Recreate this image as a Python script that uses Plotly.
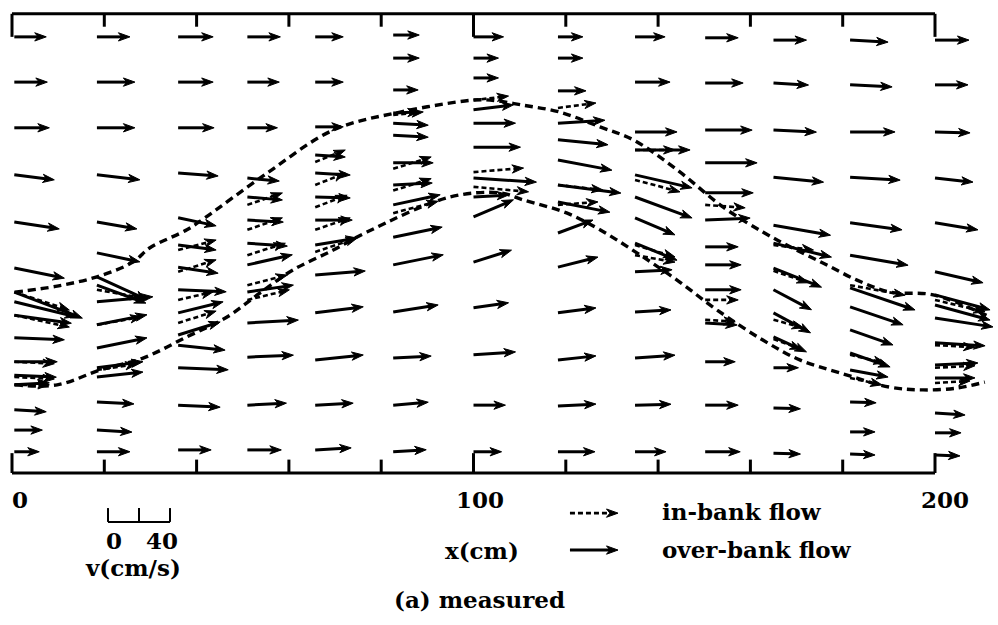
import math
import plotly.graph_objects as go

# ---------------- data ----------------
# streamwise positions of the measuring sections (cm)
col_x = [0.5, 18.4, 36.0, 51.0, 65.7, 82.6, 100.0, 118.3, 135.0, 150.2, 165.0, 181.6, 200.0]

# over-bank flow vectors: lateral position y (cm), velocity u, v (cm/s), per section
over_y = [
    [94.5, 84.7, 74.8, 64.6, 54.4, 44.4, 39.2, 37.1, 34.2, 29.3, 24.1, 21.2, 19.1, 13.7, 9.3, 4.6],
    [94.5, 84.7, 74.8, 64.6, 54.4, 47.7, 42.5, 40.7, 37.1, 32.1, 27.1, 22.8, 20.8, 15.4, 9.3, 4.6],
    [94.5, 84.7, 74.8, 65.0, 55.3, 49.4, 44.6, 39.7, 34.7, 29.9, 27.7, 22.8, 14.7, 5.0],
    [94.5, 84.7, 74.8, 63.9, 59.8, 54.8, 49.8, 45.1, 39.2, 32.5, 25.1, 14.7, 5.0],
    [94.5, 84.7, 75.0, 68.9, 65.0, 59.8, 54.8, 49.4, 42.9, 34.7, 24.5, 14.7, 5.0],
    [94.9, 89.9, 83.0, 78.0, 75.8, 73.2, 67.2, 62.4, 58.1, 51.1, 45.1, 34.9, 24.9, 14.7, 4.6],
    [94.5, 89.9, 85.6, 78.7, 75.8, 70.6, 63.9, 59.8, 55.5, 45.7, 35.8, 25.6, 14.7, 4.6],
    [94.5, 89.9, 82.8, 75.8, 72.2, 67.8, 62.4, 58.7, 52.0, 44.6, 34.7, 24.5, 14.5, 4.6],
    [94.5, 84.7, 73.9, 70.0, 64.6, 59.8, 55.3, 49.8, 43.6, 34.9, 24.9, 14.7, 4.6],
    [94.3, 84.5, 74.3, 67.2, 60.7, 54.8, 49.0, 45.1, 39.7, 32.5, 24.1, 14.7, 4.6],
    [93.8, 84.5, 74.3, 64.1, 53.7, 49.8, 44.4, 39.7, 34.7, 29.5, 22.8, 14.1, 4.3],
    [93.8, 84.1, 73.9, 64.1, 54.2, 47.2, 40.1, 36.0, 31.0, 26.0, 22.3, 15.4, 8.9, 4.1],
    [93.8, 84.1, 73.9, 63.9, 54.2, 43.6, 38.6, 36.4, 33.6, 28.2, 23.4, 20.6, 13.0, 8.7, 3.9],
]
over_u = [
    [20.6, 21.3, 22.6, 25.8, 29.0, 32.3, 43.9, 40.0, 36.8, 32.3, 27.7, 27.1, 22.6, 20.6, 18.1, 16.1],
    [21.3, 24.5, 24.5, 27.7, 25.8, 27.7, 32.3, 31.6, 36.1, 32.3, 32.3, 29.7, 29.7, 23.9, 22.6, 21.3],
    [22.6, 22.6, 23.2, 25.8, 24.5, 24.5, 25.8, 31.0, 29.0, 27.1, 30.3, 32.3, 27.1, 21.3],
    [21.3, 20.6, 19.4, 20.6, 22.6, 23.2, 25.8, 29.0, 29.7, 32.9, 29.7, 25.2, 21.9],
    [18.1, 18.1, 18.1, 19.4, 22.6, 22.6, 23.9, 27.1, 32.3, 31.0, 31.0, 24.5, 23.2],
    [16.8, 16.8, 16.1, 16.8, 22.6, 22.6, 25.8, 25.2, 30.3, 31.6, 32.3, 29.0, 24.5, 22.6, 21.3],
    [19.4, 16.1, 16.1, 25.8, 27.1, 30.3, 40.6, 22.6, 25.8, 24.5, 22.6, 27.1, 20.6, 18.1],
    [16.1, 16.1, 18.1, 30.3, 32.3, 34.8, 40.6, 33.5, 22.6, 25.8, 24.5, 24.5, 24.5, 23.9],
    [19.4, 22.6, 27.1, 35.5, 36.8, 36.8, 25.8, 27.1, 23.9, 23.2, 25.8, 23.2, 20.0],
    [21.3, 24.5, 30.3, 33.5, 31.0, 29.0, 21.3, 23.2, 23.2, 20.6, 19.4, 21.3, 22.6],
    [21.3, 22.6, 27.7, 32.3, 36.8, 37.4, 31.0, 24.5, 23.9, 21.3, 16.1, 17.4, 17.4],
    [24.5, 27.1, 29.0, 32.3, 33.5, 37.4, 41.9, 34.2, 27.7, 25.8, 24.5, 16.8, 16.1, 16.1],
    [21.9, 21.3, 22.6, 24.5, 27.7, 31.0, 35.5, 35.5, 37.4, 32.3, 27.7, 25.8, 19.4, 16.8, 16.1],
]
over_v = [
    [0, 0, 0, -3.2, -4.5, -6.5, -16.8, -9.7, -5.2, -1.3, 0, -1.3, 1.3, -1.3, 0, 0],
    [0, 0, 0, -3.2, -4.5, -5.8, -14.8, -11.6, 3.2, 6.5, 6.5, 3.9, 3.2, -1.3, -1.3, 0],
    [0, 0, 0, -1.9, -5.2, -3.2, -3.9, -1.3, 7.1, 8.4, -3.2, -1.3, -1.3, 0],
    [0, 0, 0, -1.9, -1.9, -1.3, -1.9, 6.5, 4.5, 1.9, 1.3, 1.3, 0],
    [0, 0, 0, -1.3, -1.3, -0.6, 0, 4.5, 2.6, 3.9, 3.2, 1.3, 1.3],
    [0, 0, 0, 0.6, -1.3, -1.3, 0, 1.3, 6.5, 6.5, 6.5, 4.5, 1.3, 1.9, 1.3],
    [0, 0, 0, 3.2, 0, 0, -2.6, 1.3, 11.0, 7.7, 3.2, 1.9, 0, 0],
    [0, 0, 0, 1.9, -3.2, -6.5, -5.2, -6.5, 8.4, 6.5, 3.2, 2.6, 1.3, 0],
    [0, 0, 0, 0, -8.4, -13.5, -11.0, -11.0, 1.3, 1.3, 1.9, 0.6, 0],
    [0, 0, 0, 0, 0, 1.3, 0, 0, 0, -1.3, 0, 0, 0],
    [0, -1.3, -1.3, -3.2, -6.5, -9.0, -12.3, -12.9, -12.9, -9.7, 0, -0.6, -0.6],
    [-1.3, -1.3, 0, -1.9, -4.5, -6.5, -14.2, -11.6, -9.7, -9.0, -4.5, -0.6, 0, -0.6],
    [0, 0, -0.6, -2.6, -4.5, -7.1, -9.7, -9.7, -5.8, -1.9, 1.3, 0, -1.3, 0, -0.6],
]

# in-bank flow vectors inside the main channel
in_y = [
    [39.2, 34.2, 24.1, 20.8, 19.1],
    [39.7, 32.1, 22.3],
    [48.3, 43.6, 37.5, 32.5],
    [58.1, 52.7, 47.2, 40.7, 37.5],
    [67.4, 62.4, 57.6, 52.7, 47.9],
    [77.6, 65.9, 61.2, 56.3],
    [80.8, 65.2, 62.0],
    [79.1, 62.4, 58.1],
    [70.0, 63.5, 49.4, 47.2],
    [58.1, 37.5, 33.2],
    [49.4, 43.8, 33.2, 29.0],
    [40.7, 25.6, 20.6],
    [37.5, 27.7, 22.8, 19.5],
]
in_u = [
    [35.5, 35.5, 25.8, 25.8, 22.6],
    [29.0, 29.0, 25.8],
    [24.5, 24.5, 22.6, 24.5],
    [22.6, 22.6, 24.5, 25.8, 27.1],
    [19.4, 19.4, 20.6, 22.6, 27.1],
    [19.4, 24.5, 24.5, 29.0],
    [22.6, 32.3, 35.5],
    [24.5, 29.0, 25.8],
    [25.8, 29.0, 25.8, 25.8],
    [25.8, 21.3, 19.4],
    [25.8, 22.6, 19.4, 18.1],
    [35.5, 22.6, 20.6],
    [32.3, 25.8, 25.8, 22.6],
]
in_v = [
    [-11.6, -7.7, -1.3, -1.3, 0],
    [-5.2, 5.2, 3.9],
    [6.5, 7.7, 5.2, 7.7],
    [7.7, 7.7, 7.7, 6.5, 6.5],
    [7.7, 7.7, 7.7, 7.7, 9.0],
    [1.9, 7.7, 7.7, 7.7],
    [2.6, 2.6, -3.2],
    [3.2, -3.2, 1.9],
    [0, -7.7, -7.7, -4.5],
    [-1.9, 0, -1.3],
    [-3.2, -7.7, -5.2, -6.5],
    [-6.5, -5.2, -4.5],
    [-7.7, -1.3, 1.3, 1.3],
]

# channel banks (dashed lines), cm
upper_bank_x = [0.6, 9.8, 18.4, 26.2, 29.9, 37.9, 41.8, 55.3, 69.6, 84.1, 99.9, 103.6, 110.7,
                118.7, 127.4, 134.6, 144.1, 154.1, 162.7, 168.6, 175.7, 183.1, 190.2, 199.6, 211.9]
upper_bank_y = [39.2, 40.5, 42.5, 45.7, 48.8, 52.7, 55.3, 65.0, 74.3, 78.2, 80.8, 80.8, 79.7,
                78.2, 75.0, 72.2, 65.7, 57.6, 52.2, 49.0, 45.5, 41.8, 39.2, 38.6, 33.8]
lower_bank_x = [0.6, 9.8, 19.1, 28.4, 37.9, 46.6, 53.7, 60.9, 69.6, 76.9, 94.9, 105.7, 110.7,
                120.3, 127.4, 135.4, 144.1, 152.8, 162.7, 170.7, 179.4, 190.2, 197.4, 204.8, 210.8]
lower_bank_y = [19.1, 19.1, 22.3, 24.9, 29.5, 33.8, 39.0, 44.0, 48.3, 52.2, 59.8, 60.7, 59.2,
                56.3, 52.7, 47.7, 41.8, 35.3, 28.8, 24.5, 21.7, 18.6, 18.0, 18.4, 19.7]

x_tick_labels = ["0", "100", "200"]
x_tick_vals = [0, 100, 200]
scale_bar_values = [0, 40]

# ---------------- style ----------------
S = 0.336          # cm of drawing per cm/s
HEAD_L = 2.5       # arrow head length (cm)
HEAD_W = 0.9       # arrow head half width (cm)
FONT = dict(family="DejaVu Serif", size=23, color="black")
TOP = 99.5

fig = go.Figure()


def add_arrows(xs, ys, us, vs, dashed, shaft_w):
    sx, sy, hx, hy = [], [], [], []
    for x0, y0, u, v in zip(xs, ys, us, vs):
        dx, dy = u * S, v * S
        L = math.hypot(dx, dy)
        if L == 0:
            continue
        ex, ey = dx / L, dy / L
        nx, ny = -ey, ex
        tx, ty = x0 + dx, y0 + dy
        hl = min(HEAD_L, 0.5 * L)
        bx, by = tx - hl * ex, ty - hl * ey
        sx += [x0, bx + 0.4 * hl * ex, None]
        sy += [y0, by + 0.4 * hl * ey, None]
        hx += [tx, bx + HEAD_W * nx, bx + 0.3 * hl * ex, bx - HEAD_W * nx, tx, None]
        hy += [ty, by + HEAD_W * ny, by + 0.3 * hl * ey, by - HEAD_W * ny, ty, None]
    fig.add_trace(go.Scatter(x=sx, y=sy, mode="lines", hoverinfo="skip", showlegend=False,
                             line=dict(color="black", width=shaft_w,
                                       dash="5px,3px" if dashed else "solid")))
    fig.add_trace(go.Scatter(x=hx, y=hy, mode="lines", fill="toself", fillcolor="black",
                             hoverinfo="skip", showlegend=False,
                             line=dict(color="black", width=1)))


# flatten
ox, oy, ou, ov = [], [], [], []
for cx, ys, us, vs in zip(col_x, over_y, over_u, over_v):
    ox += [cx] * len(ys); oy += ys; ou += us; ov += vs
ix, iy, iu, iv = [], [], [], []
for cx, ys, us, vs in zip(col_x, in_y, in_u, in_v):
    ix += [cx] * len(ys); iy += ys; iu += us; iv += vs

# banks
for bx_, by_ in [(upper_bank_x, upper_bank_y), (lower_bank_x, lower_bank_y)]:
    fig.add_trace(go.Scatter(x=bx_, y=by_, mode="lines", line_shape="spline",
                             hoverinfo="skip", showlegend=False,
                             line=dict(color="black", width=3.4, dash="8px,5px")))

# frame
fx, fy = [0, 200, None], [TOP, TOP, None]
fx += [0, 200, None]; fy += [0, 0, None]
for t in [0, 100, 200]:
    fx += [t, t, None]; fy += [TOP, 94.5, None]
    fx += [t, t, None]; fy += [0, 4.3, None]
for t in [20, 40, 60, 80, 120, 140, 160, 180]:
    fx += [t, t, None]; fy += [TOP, 96.7, None]
    fx += [t, t, None]; fy += [0, 2.9, None]
fig.add_trace(go.Scatter(x=fx, y=fy, mode="lines", hoverinfo="skip", showlegend=False,
                         line=dict(color="black", width=3)))

add_arrows(ox, oy, ou, ov, False, 3)
add_arrows(ix, iy, iu, iv, True, 2.6)

# legend arrows
add_arrows([120.9], [-8.7], [31], [0], True, 2.6)
add_arrows([120.9], [-16.7], [31], [0], False, 3)

# velocity scale bar
sb0 = 20.8
sbx, sby = [], []
for val in [0, 20, 40]:
    sbx += [sb0 + val * S, sb0 + val * S, None]; sby += [-7.6, -10.6, None]
sbx += [sb0, sb0 + 40 * S]; sby += [-10.6, -10.6]
fig.add_trace(go.Scatter(x=sbx, y=sby, mode="lines", hoverinfo="skip", showlegend=False,
                         line=dict(color="black", width=2)))

ann = []
for lab, xv, dxo in zip(x_tick_labels, x_tick_vals, [1.7, 1.4, 2.2]):
    ann.append(dict(x=xv + dxo, y=-5.7, text=f"<b>{lab}</b>", xanchor="center"))
ann.append(dict(x=sb0 + 1.3, y=-14.7, text=f"<b>{scale_bar_values[0]}</b>", xanchor="center"))
ann.append(dict(x=sb0 + scale_bar_values[1] * S - 1.8, y=-14.7,
                text=f"<b>{scale_bar_values[1]}</b>", xanchor="center"))
ann.append(dict(x=26.2, y=-20.4, text="<b>v(cm/s)</b>", xanchor="center"))
ann.append(dict(x=101.8, y=-16.9, text="<b>x(cm)</b>", xanchor="center"))
ann.append(dict(x=140.4, y=-8.3, text="<b>in-bank flow</b>", xanchor="left"))
ann.append(dict(x=140.4, y=-16.5, text="<b>over-bank flow</b>", xanchor="left"))
ann.append(dict(x=101.4, y=-27.5, text="<b>(a) measured</b>", xanchor="center"))
for a in ann:
    a.update(xref="x", yref="y", showarrow=False, yanchor="middle", font=FONT)

fig.update_layout(
    width=998, height=625,
    margin=dict(l=0, r=0, t=0, b=0),
    paper_bgcolor="white", plot_bgcolor="white",
    annotations=ann,
    xaxis=dict(range=[-2.6, 213.65], visible=False, fixedrange=True),
    yaxis=dict(range=[-32.94, 102.49], visible=False, fixedrange=True),
    showlegend=False,
)

fig.write_html(
    "out.html",
    config={"displayModeBar": False},
    post_script="document.body.style.margin='0';document.body.style.overflow='hidden';",
)
